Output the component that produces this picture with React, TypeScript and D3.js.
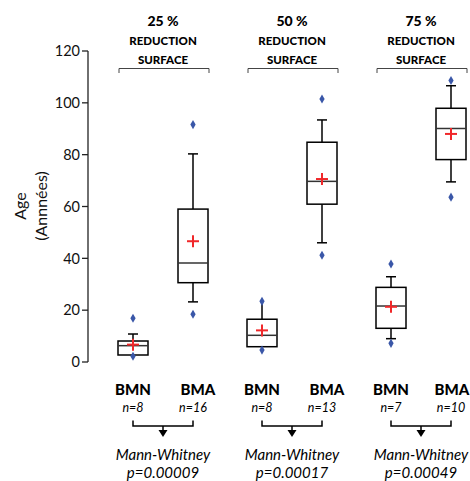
import React from "react";
import * as d3 from "d3";

const groups = ["25 %", "50 %", "75 %"];
const categories = ["BMN", "BMA"];
const counts = ["n=8", "n=16", "n=8", "n=13", "n=7", "n=10"];
const pValues = ["p=0.00009", "p=0.00017", "p=0.00049"];
const q1 = [2.7, 30.6, 5.9, 60.9, 13, 78.1];
const medians = [6.3, 38.2, 10.3, 69.7, 21.6, 90.1];
const q3 = [8.1, 59, 16.5, 84.8, 28.8, 97.9];
const whiskerLow = [2.7, 23.2, 5.9, 46, 9, 69.5];
const whiskerHigh = [10.8, 80.3, 22.8, 93.4, 32.9, 106.6];
const means = [6.7, 46.6, 12.2, 70.6, 21.3, 88];
const outliers = [[16.9, 2.2], [91.6, 18.4], [23.4, 4.6], [101.5, 41.2], [37.8, 7.2], [108.6, 63.6]];
const yTicks = [0, 20, 40, 60, 80, 100, 120];

export default function App() {
  const W = 470, H = 481;
  const y = d3.scaleLinear().domain([0, 120]).range([362, 51]);
  const gx = d3.scaleBand<string>().domain(groups).range([68, 455]).padding(0);
  const cx = (i: number) => {
    const start = gx(groups[Math.floor(i / 2)])!;
    return start + (i % 2 === 0 ? 65 : 125);
  };
  const gc = (gi: number) => gx(groups[gi])! + 95;
  const bw = 30;
  const font = "Lato, 'Open Sans', sans-serif";
  const black = "#000";

  return (
    <svg width={W} height={H} style={{ position: "absolute", left: 0, top: 0 }} fontFamily={font}>
      <rect width={W} height={H} fill="#fff" />
      <line x1={88} x2={88} y1={y(120)} y2={y(0)} stroke="#222" strokeWidth={1.3} />
      {yTicks.map((t) => (
        <g key={t}>
          <line x1={82} x2={88} y1={y(t)} y2={y(t)} stroke="#222" strokeWidth={1.3} />
          <text x={80} y={y(t)} dy="0.36em" textAnchor="end" fontSize={14.5} fill="#111">{t}</text>
        </g>
      ))}
      <text transform="translate(26,206) rotate(-90)" textAnchor="middle" fontSize={16} fill="#111">Age</text>
      <text transform="translate(47,206) rotate(-90)" textAnchor="middle" fontSize={16} fill="#111">(Annnées)</text>

      {groups.map((g, gi) => {
        const c = gc(gi);
        const l = cx(gi * 2) - 14, r = cx(gi * 2 + 1) + 16;
        return (
          <g key={g}>
            <text x={c} y={26} textAnchor="middle" fontSize={14} fontWeight="900" fill={black}>{g}</text>
            <text x={c} y={44.5} textAnchor="middle" fontSize={11.5} fontWeight="900" fill={black}>REDUCTION</text>
            <text x={c} y={63.5} textAnchor="middle" fontSize={11.5} fontWeight="900" fill={black}>SURFACE</text>
            <path d={`M${l},73 V68.5 H${r} V73`} fill="none" stroke="#444" strokeWidth={1} />
          </g>
        );
      })}

      {q1.map((_, i) => {
        const x = cx(i);
        return (
          <g key={i}>
            <line x1={x} x2={x} y1={y(whiskerHigh[i])} y2={y(q3[i])} stroke={black} strokeWidth={1.5} />
            <line x1={x} x2={x} y1={y(q1[i])} y2={y(whiskerLow[i])} stroke={black} strokeWidth={1.5} />
            {whiskerHigh[i] - q3[i] > 1 && i !== 2 && (
              <line x1={x - 5} x2={x + 5} y1={y(whiskerHigh[i])} y2={y(whiskerHigh[i])} stroke={black} strokeWidth={1.5} />
            )}
            {q1[i] - whiskerLow[i] > 1 && (
              <line x1={x - 5} x2={x + 5} y1={y(whiskerLow[i])} y2={y(whiskerLow[i])} stroke={black} strokeWidth={1.5} />
            )}
            <rect x={x - bw / 2} y={y(q3[i])} width={bw} height={y(q1[i]) - y(q3[i])} fill="none" stroke={black} strokeWidth={1.5} />
            <line x1={x - bw / 2} x2={x + bw / 2} y1={y(medians[i])} y2={y(medians[i])} stroke="#333" strokeWidth={1.5} />
            {outliers[i].map((o, k) => (
              <path key={k} d={d3.symbol(d3.symbolDiamond, 24)()!} transform={`translate(${x},${y(o)})`} fill="#3a57a8" />
            ))}
            <g stroke="#f0282a" strokeWidth={2}>
              <line x1={x - 6} x2={x + 6} y1={y(means[i])} y2={y(means[i])} />
              <line x1={x} x2={x} y1={y(means[i]) - 6} y2={y(means[i]) + 6} />
            </g>
          </g>
        );
      })}

      {q1.map((_, i) => (
        <g key={"b" + i}>
          <text x={i % 2 === 0 ? cx(i) : Math.min(cx(i) + 5, 452)} y={395} textAnchor="middle" fontSize={15} fontWeight="900" fill={black}>{categories[i % 2]}</text>
          <text x={cx(i)} y={412} textAnchor="middle" fontSize={12.5} fontStyle="italic" fill={black}>{counts[i]}</text>
        </g>
      ))}
      {groups.map((g, gi) => {
        const l = cx(gi * 2), r = cx(gi * 2 + 1);
        const c = (l + r) / 2;
        return (
          <g key={"mw" + g}>
            <path d={`M${l},420.5 V426 H${r} V420.5`} fill="none" stroke={black} strokeWidth={1.5} />
            <line x1={c} x2={c} y1={426} y2={430} stroke={black} strokeWidth={1.5} />
            <path d={`M${c - 4.5},430 L${c + 4.5},430 L${c},437 Z`} fill={black} />
            <text x={c} y={460} textAnchor="middle" fontSize={15} fontStyle="italic" fill={black}>Mann-Whitney</text>
            <text x={c} y={478} textAnchor="middle" fontSize={15} fontStyle="italic" fill={black}>{pValues[gi]}</text>
          </g>
        );
      })}
    </svg>
  );
}
